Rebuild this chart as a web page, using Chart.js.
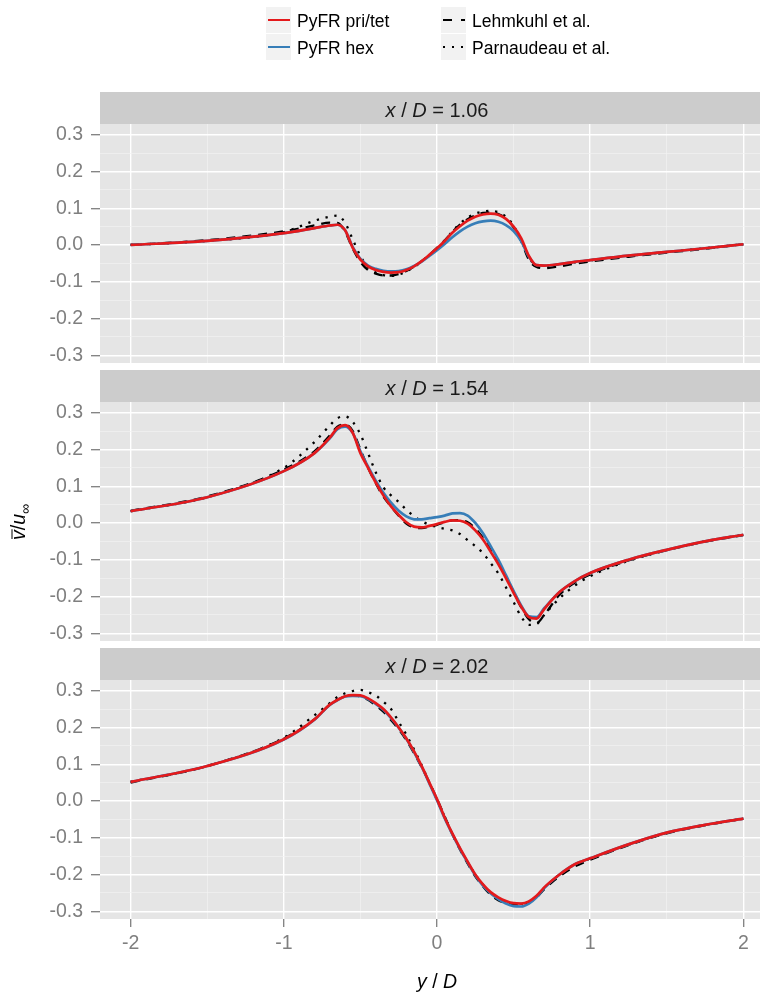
<!DOCTYPE html>
<html>
<head>
<meta charset="utf-8">
<script src="https://cdn.jsdelivr.net/npm/chart.js@4.4.1/dist/chart.umd.min.js"></script>
<style>
  html, body { margin: 0; padding: 0; background: #fff; }
  #wrap { position: relative; width: 760px; height: 992px; overflow: hidden; }
  #wrap canvas { position: absolute; left: 0; }
</style>
</head>
<body>
<div id="wrap">
  <canvas id="p1" width="780" height="369" style="top:0px"></canvas>
  <canvas id="p2" width="780" height="277" style="top:370px"></canvas>
  <canvas id="p3" width="780" height="344" style="top:648px"></canvas>
</div>
<script>
// y / D positions shared by all profiles
var yPos = [-2.0, -1.5, -1.0, -0.8, -0.7, -0.65, -0.6, -0.55, -0.5, -0.45,
  -0.4, -0.35, -0.3, -0.25, -0.2, -0.15, -0.1, -0.05, 0.0, 0.05,
  0.1, 0.15, 0.2, 0.25, 0.3, 0.35, 0.4, 0.45, 0.5, 0.55,
  0.6, 0.65, 0.7, 0.8, 0.9, 1.0, 1.25, 1.5, 1.75, 2.0];

var panelLabels = ['1.06', '1.54', '2.02'];
var seriesNames = ['PyFR pri/tet', 'PyFR hex', 'Lehmkuhl et al.', 'Parnaudeau et al.'];

// x / D = 1.06
var priTet106 = [0.000, 0.011, 0.032, 0.046, 0.053, 0.055, 0.040, -0.008, -0.040, -0.058,
  -0.068, -0.073, -0.075, -0.074, -0.068, -0.058, -0.044, -0.027, -0.009, 0.011,
  0.033, 0.051, 0.066, 0.077, 0.083, 0.085, 0.082, 0.071, 0.050, 0.018,
  -0.030, -0.055, -0.056, -0.052, -0.046, -0.041, -0.029, -0.019, -0.009, 0.002];
var hex106 = [0.000, 0.011, 0.032, 0.046, 0.053, 0.055, 0.040, -0.006, -0.038, -0.056,
  -0.065, -0.070, -0.072, -0.071, -0.066, -0.057, -0.045, -0.030, -0.014, 0.003,
  0.021, 0.037, 0.050, 0.059, 0.064, 0.066, 0.063, 0.054, 0.038, 0.010,
  -0.032, -0.055, -0.056, -0.052, -0.046, -0.041, -0.029, -0.019, -0.009, 0.002];
var lehmkuhl106 = [0.000, 0.013, 0.037, 0.053, 0.061, 0.060, 0.036, -0.010, -0.046, -0.068,
  -0.078, -0.083, -0.083, -0.079, -0.071, -0.059, -0.044, -0.027, -0.008, 0.012,
  0.035, 0.055, 0.070, 0.080, 0.087, 0.088, 0.084, 0.072, 0.048, 0.010,
  -0.040, -0.060, -0.063, -0.058, -0.051, -0.045, -0.032, -0.021, -0.010, 0.002];
var parnaudeau106 = [0.000, 0.011, 0.035, 0.066, 0.077, 0.080, 0.060, 0.015, -0.030, -0.060,
  -0.075, -0.082, -0.084, -0.080, -0.072, -0.060, -0.045, -0.028, -0.010, 0.012,
  0.037, 0.058, 0.074, 0.085, 0.091, 0.093, 0.089, 0.077, 0.052, 0.012,
  -0.035, -0.055, -0.058, -0.053, -0.047, -0.042, -0.030, -0.019, -0.009, 0.002];

// x / D = 1.54
var priTet154 = [0.032, 0.070, 0.141, 0.190, 0.232, 0.258, 0.266, 0.245, 0.190, 0.150,
  0.110, 0.075, 0.045, 0.022, 0.002, -0.010, -0.012, -0.008, -0.003, 0.003,
  0.007, 0.006, -0.002, -0.020, -0.045, -0.078, -0.112, -0.150, -0.190, -0.228,
  -0.256, -0.260, -0.234, -0.188, -0.158, -0.136, -0.100, -0.073, -0.050, -0.032];
var hex154 = [0.032, 0.070, 0.141, 0.190, 0.230, 0.255, 0.262, 0.245, 0.195, 0.153,
  0.115, 0.082, 0.055, 0.033, 0.018, 0.010, 0.010, 0.013, 0.016, 0.020,
  0.026, 0.027, 0.020, 0.000, -0.028, -0.063, -0.100, -0.142, -0.185, -0.225,
  -0.254, -0.256, -0.232, -0.188, -0.158, -0.136, -0.100, -0.073, -0.050, -0.032];
var lehmkuhl154 = [0.033, 0.072, 0.145, 0.195, 0.238, 0.262, 0.268, 0.250, 0.200, 0.150,
  0.108, 0.072, 0.045, 0.020, -0.002, -0.012, -0.014, -0.010, -0.005, 0.002,
  0.007, 0.008, 0.002, -0.015, -0.040, -0.070, -0.105, -0.145, -0.188, -0.230,
  -0.262, -0.272, -0.250, -0.195, -0.162, -0.140, -0.102, -0.074, -0.051, -0.033];
var parnaudeau154 = [0.032, 0.070, 0.150, 0.220, 0.265, 0.285, 0.290, 0.275, 0.241, 0.190,
  0.138, 0.097, 0.075, 0.057, 0.036, 0.018, 0.005, -0.005, -0.011, -0.016,
  -0.020, -0.030, -0.047, -0.063, -0.082, -0.109, -0.137, -0.175, -0.215, -0.255,
  -0.277, -0.275, -0.250, -0.205, -0.170, -0.145, -0.103, -0.074, -0.050, -0.032];

// x / D = 2.02
var priTet202 = [0.052, 0.095, 0.168, 0.222, 0.262, 0.275, 0.285, 0.288, 0.287, 0.279,
  0.266, 0.250, 0.227, 0.200, 0.170, 0.135, 0.095, 0.050, 0.005, -0.045,
  -0.088, -0.128, -0.165, -0.200, -0.227, -0.248, -0.262, -0.272, -0.278, -0.279,
  -0.273, -0.258, -0.235, -0.200, -0.172, -0.156, -0.118, -0.086, -0.065, -0.048];
var hex202 = [0.052, 0.095, 0.167, 0.221, 0.261, 0.274, 0.284, 0.286, 0.285, 0.277,
  0.264, 0.248, 0.225, 0.199, 0.169, 0.133, 0.093, 0.048, 0.002, -0.047,
  -0.090, -0.130, -0.167, -0.202, -0.230, -0.251, -0.267, -0.279, -0.286, -0.287,
  -0.279, -0.262, -0.237, -0.200, -0.172, -0.156, -0.118, -0.086, -0.065, -0.048];
var lehmkuhl202 = [0.050, 0.095, 0.170, 0.222, 0.262, 0.275, 0.284, 0.287, 0.284, 0.275,
  0.260, 0.243, 0.220, 0.195, 0.165, 0.130, 0.092, 0.050, 0.005, -0.042,
  -0.090, -0.132, -0.170, -0.205, -0.232, -0.255, -0.270, -0.278, -0.283, -0.283,
  -0.276, -0.262, -0.240, -0.205, -0.178, -0.160, -0.120, -0.088, -0.066, -0.048];
var parnaudeau202 = [0.052, 0.095, 0.172, 0.233, 0.266, 0.283, 0.293, 0.299, 0.302, 0.296,
  0.287, 0.270, 0.250, 0.215, 0.180, 0.140, 0.097, 0.050, 0.003, -0.043,
  -0.090, -0.130, -0.167, -0.200, -0.228, -0.250, -0.265, -0.275, -0.280, -0.280,
  -0.274, -0.260, -0.237, -0.200, -0.173, -0.157, -0.119, -0.087, -0.065, -0.048];

// tick positions
var xMajor = [-2, -1, 0, 1, 2];
var xMinor = [-1.5, -0.5, 0.5, 1.5];
var yMajor = [-0.3, -0.2, -0.1, 0.0, 0.1, 0.2, 0.3];
var yMinor = [-0.25, -0.15, -0.05, 0.05, 0.15, 0.25];

var FONT = '"Liberation Sans", Arial, Helvetica, sans-serif';
var RED = '#E41A1C', BLUE = '#377EB8';
var TICK_GREY = '#7F7F7F';

function pts(vals) {
  return yPos.map(function (x, i) { return { x: x, y: vals[i] }; });
}
function isMajor(v, majors) {
  return majors.some(function (m) { return Math.abs(m - v) < 1e-9; });
}
function setTicks(majors, minors) {
  return function (scale) {
    scale.ticks = majors.concat(minors).sort(function (a, b) { return a - b; })
      .map(function (v) { return { value: v }; });
  };
}
function noPad(s) {
  s.paddingTop = 0; s.paddingBottom = 0; s.paddingLeft = 0; s.paddingRight = 0;
}

// draw a row of text pieces, some italic, centred on cx
function drawParts(ctx, parts, cx, baseline, size, color) {
  var widths = parts.map(function (p) {
    ctx.font = (p[1] ? 'italic ' : '') + size + 'px ' + FONT;
    return ctx.measureText(p[0]).width;
  });
  var total = widths.reduce(function (a, b) { return a + b; }, 0);
  var x = cx - total / 2;
  ctx.fillStyle = color;
  ctx.textAlign = 'left';
  ctx.textBaseline = 'alphabetic';
  parts.forEach(function (p, i) {
    ctx.font = (p[1] ? 'italic ' : '') + size + 'px ' + FONT;
    ctx.fillText(p[0], x, baseline);
    x += widths[i];
  });
}

function keyLine(ctx, x0, x1, y, color, width, dash) {
  ctx.save();
  ctx.strokeStyle = color;
  ctx.lineWidth = width;
  ctx.setLineDash(dash || []);
  ctx.beginPath();
  ctx.moveTo(x0, y);
  ctx.lineTo(x1, y);
  ctx.stroke();
  ctx.restore();
}

var facetPlugin = {
  id: 'facet',
  beforeDraw: function (chart, args, opts) {
    var ctx = chart.ctx, a = chart.chartArea;
    ctx.save();
    ctx.fillStyle = '#E5E5E5';
    ctx.fillRect(a.left, a.top, a.right - a.left, a.bottom - a.top);
    ctx.fillStyle = '#CCCCCC';
    ctx.fillRect(a.left, a.top - 32, a.right - a.left, 32);
    drawParts(ctx, [['x', true], [' / ', false], ['D', true], [' = ' + opts.label, false]],
      (a.left + a.right) / 2, a.top - 7.5, 20, '#1A1A1A');
    ctx.restore();
  },
  afterDraw: function (chart, args, opts) {
    var ctx = chart.ctx;
    ctx.save();
    if (opts.legend) {
      var cols = [266, 441];
      var rows = [7, 34];
      var styles = [
        [RED, 2, []], [BLUE, 2, []], ['#000', 2, [9, 9]], ['#000', 2, [2, 7]]
      ];
      seriesNames.forEach(function (name, i) {
        var bx = cols[Math.floor(i / 2)], by = rows[i % 2];
        ctx.fillStyle = '#F2F2F2';
        ctx.fillRect(bx, by, 25, 26);
        keyLine(ctx, bx + 2, bx + 24, by + 13, styles[i][0], styles[i][1], styles[i][2]);
        ctx.fillStyle = '#000';
        ctx.font = '17.5px ' + FONT;
        ctx.textAlign = 'left';
        ctx.textBaseline = 'alphabetic';
        ctx.fillText(name, bx + 31, by + 20);
      });
    }
    if (opts.yTitle) {
      // v-bar / u-infinity, rotated
      ctx.translate(25, 152);
      ctx.rotate(-Math.PI / 2);
      var size = 19.5;
      ctx.font = 'italic ' + size + 'px ' + FONT;
      var wv = ctx.measureText('v').width;
      ctx.font = size + 'px ' + FONT;
      var ws = ctx.measureText('/').width;
      ctx.font = 'italic ' + size + 'px ' + FONT;
      var wu = ctx.measureText('u').width;
      ctx.font = '14px ' + FONT;
      var wi = ctx.measureText('\u221E').width;
      var x = -(wv + ws + wu + wi) / 2;
      ctx.fillStyle = '#000';
      ctx.textAlign = 'left';
      ctx.textBaseline = 'alphabetic';
      ctx.font = 'italic ' + size + 'px ' + FONT;
      ctx.fillText('v', x, 0);
      ctx.strokeStyle = '#000';
      ctx.lineWidth = 1;
      ctx.beginPath();
      ctx.moveTo(x + 1, -13);
      ctx.lineTo(x + wv + 1, -13);
      ctx.stroke();
      x += wv;
      ctx.font = size + 'px ' + FONT;
      ctx.fillText('/', x, 0);
      x += ws;
      ctx.font = 'italic ' + size + 'px ' + FONT;
      ctx.fillText('u', x, 0);
      x += wu;
      ctx.font = '14px ' + FONT;
      ctx.fillText('\u221E', x, 5);
    }
    if (opts.xTitle) {
      drawParts(ctx, [['y', true], [' / ', false], ['D', true]], 437, 340, 19.5, '#000');
    }
    ctx.restore();
  }
};

function makePanel(id, idx, sets, cfg) {
  var bottom = cfg.bottom;
  return new Chart(document.getElementById(id), {
    type: 'line',
    data: {
      datasets: [
        { label: seriesNames[0], data: pts(sets[0]), borderColor: RED, borderWidth: 2.7 },
        { label: seriesNames[1], data: pts(sets[1]), borderColor: BLUE, borderWidth: 2.7 },
        { label: seriesNames[2], data: pts(sets[2]), borderColor: '#000', borderWidth: 2.3, borderDash: [9, 7] },
        { label: seriesNames[3], data: pts(sets[3]), borderColor: '#000', borderWidth: 2.3, borderDash: [2.3, 6.7] }
      ]
    },
    options: {
      responsive: false,
      animation: false,
      layout: { padding: { top: cfg.top, right: 6, bottom: cfg.padBottom, left: 0 } },
      elements: {
        point: { radius: 0 },
        line: { cubicInterpolationMode: 'monotone', fill: false, borderCapStyle: 'butt' }
      },
      plugins: {
        legend: { display: false },
        tooltip: { enabled: false },
        facet: { label: panelLabels[idx], legend: cfg.legend, yTitle: cfg.yTitle, xTitle: bottom }
      },
      scales: {
        x: {
          type: 'linear', min: -2.2, max: 2.2,
          afterBuildTicks: setTicks(xMajor, xMinor),
          afterFit: function (s) { s.height = bottom ? 73 : 0; noPad(s); },
          border: { display: false },
          grid: {
            drawTicks: bottom,
            tickLength: 8,
            tickWidth: 1.3,
            color: function (c) { return isMajor(c.tick.value, xMajor) ? '#FFFFFF' : '#F2F2F2'; },
            lineWidth: function (c) { return isMajor(c.tick.value, xMajor) ? 1.4 : 0.7; },
            tickColor: function (c) { return isMajor(c.tick.value, xMajor) ? TICK_GREY : 'rgba(0,0,0,0)'; }
          },
          ticks: {
            display: bottom,
            autoSkip: false, maxRotation: 0, minRotation: 0,
            padding: 5,
            color: TICK_GREY,
            font: { family: FONT, size: 19.5 },
            callback: function (v) { return isMajor(v, xMajor) ? String(v) : ''; }
          }
        },
        y: {
          min: -0.321, max: 0.329,
          afterBuildTicks: setTicks(yMajor, yMinor),
          afterFit: function (s) { s.width = 100; noPad(s); },
          border: { display: false },
          grid: {
            tickLength: 9,
            tickWidth: 1.3,
            color: function (c) { return isMajor(c.tick.value, yMajor) ? '#FFFFFF' : '#F2F2F2'; },
            lineWidth: function (c) { return isMajor(c.tick.value, yMajor) ? 1.4 : 0.7; },
            tickColor: function (c) { return isMajor(c.tick.value, yMajor) ? TICK_GREY : 'rgba(0,0,0,0)'; }
          },
          ticks: {
            autoSkip: false,
            padding: 8,
            color: TICK_GREY,
            font: { family: FONT, size: 19.5 },
            callback: function (v) { return isMajor(v, yMajor) ? v.toFixed(1) : ''; }
          }
        }
      }
    },
    plugins: [facetPlugin]
  });
}

makePanel('p1', 0, [priTet106, hex106, lehmkuhl106, parnaudeau106],
  { top: 124, padBottom: 6, bottom: false, legend: true, yTitle: false });
makePanel('p2', 1, [priTet154, hex154, lehmkuhl154, parnaudeau154],
  { top: 32, padBottom: 6, bottom: false, legend: false, yTitle: true });
makePanel('p3', 2, [priTet202, hex202, lehmkuhl202, parnaudeau202],
  { top: 32, padBottom: 0, bottom: true, legend: false, yTitle: false });
</script>
</body>
</html>
